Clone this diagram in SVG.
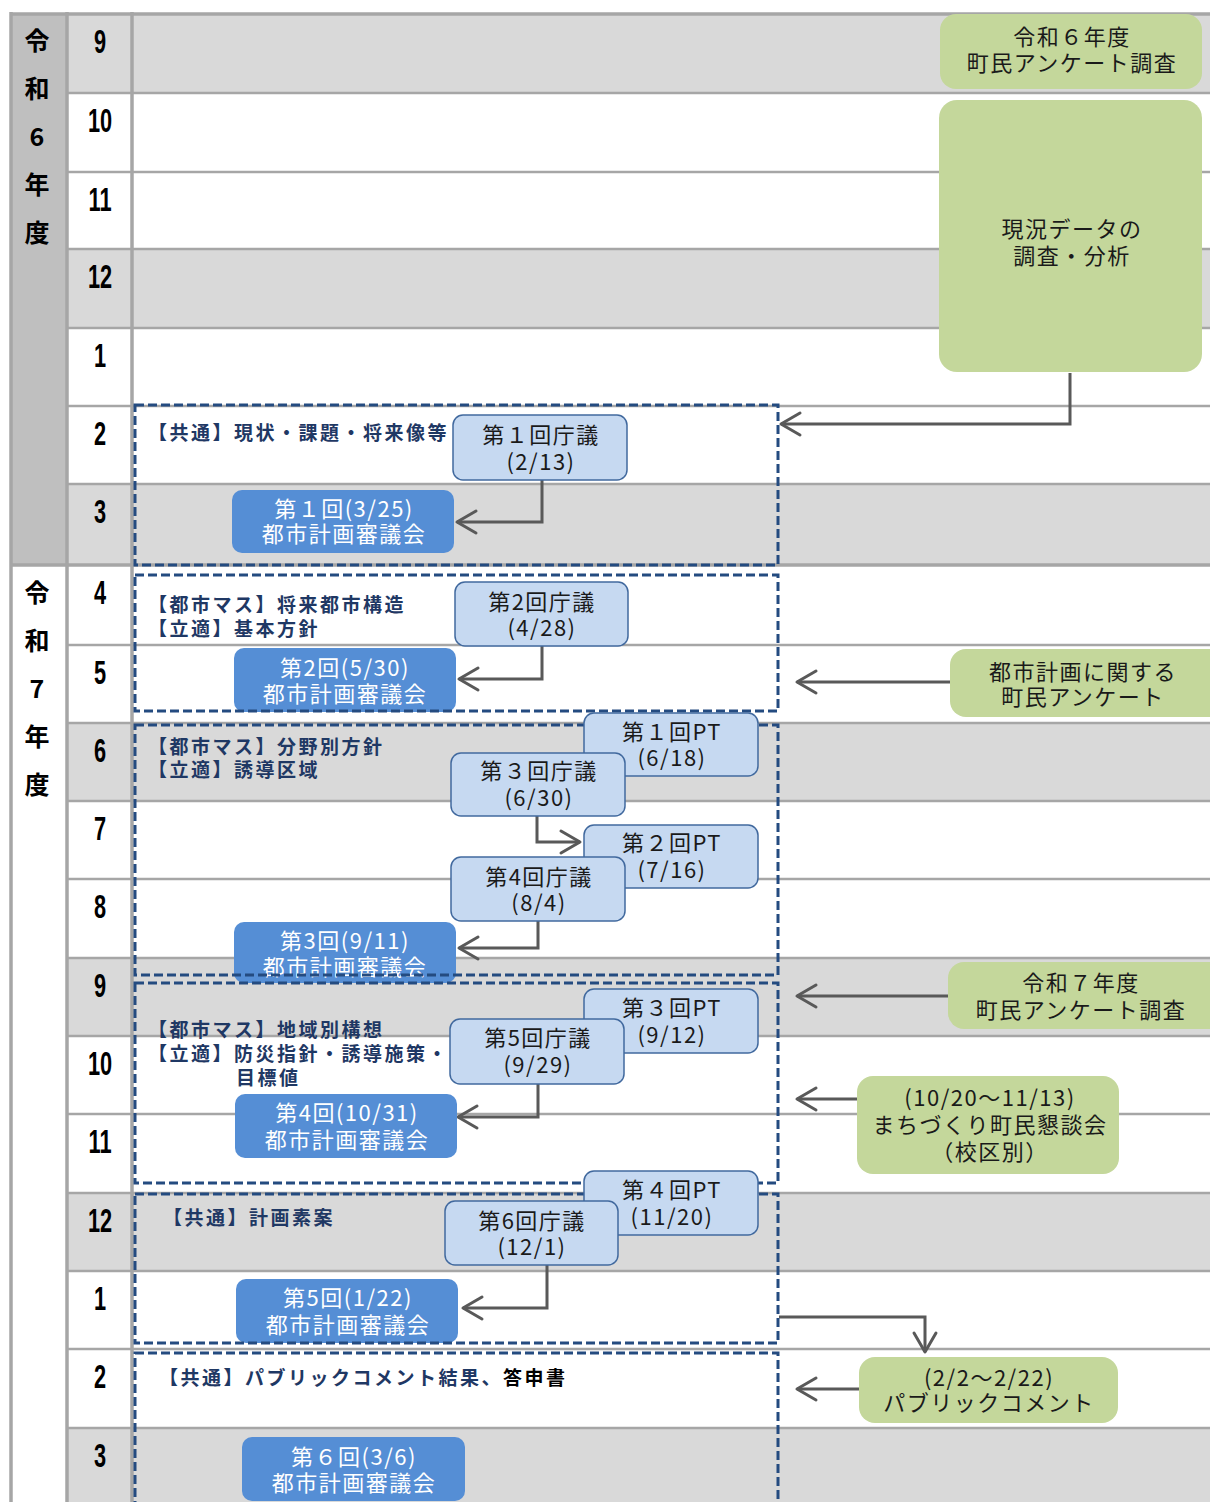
<svg xmlns="http://www.w3.org/2000/svg" width="1210" height="1502" viewBox="0 0 1210 1502">
<defs>
<style>
text{font-family:'Noto Sans CJK JP','Noto Sans',sans-serif;}
.shade{fill:#d9d9d9}
.rl{stroke:#a6a6a6;stroke-width:2.5}
.bl{stroke:#a6a6a6;stroke-width:3.5}
.yr{font-size:25px;font-weight:bold;text-anchor:middle;fill:#000}
.mo{font-family:'Liberation Sans',Arial,sans-serif;font-size:34px;font-weight:bold;text-anchor:middle;fill:#000}
.dash{fill:none;stroke:#244b80;stroke-width:3;stroke-dasharray:9 4}
.lab{font-size:19px;font-weight:bold;letter-spacing:2.5px;fill:#1f3864}
.g{fill:#c4d79b}
.lb{fill:#c6d9f1;stroke:#41699e;stroke-width:1.5}
.db{fill:#558ed5}
.t{font-size:22px;letter-spacing:1.5px;text-anchor:middle;fill:#1a1a1a}
.tw{font-size:22px;letter-spacing:1.5px;text-anchor:middle;fill:#fff}
.conn{fill:none;stroke:#595959;stroke-width:3;marker-end:url(#arr)}
</style>
<marker id="arr" markerUnits="userSpaceOnUse" viewBox="-22 -14 26 28" markerWidth="26" markerHeight="28" refX="0" refY="0" orient="auto" overflow="visible">
<path d="M-19,-11 L0,0 L-19,11" fill="none" stroke="#595959" stroke-width="3" stroke-linejoin="round" stroke-linecap="round"/>
</marker>
</defs>
<rect x="0" y="0" width="1210" height="1502" fill="#fff"/>
<g id="table">
<rect class="shade" x="68" y="14" width="1142" height="79"/>
<rect class="shade" x="68" y="249" width="1142" height="79"/>
<rect class="shade" x="68" y="484" width="1142" height="81"/>
<rect class="shade" x="68" y="723" width="1142" height="78"/>
<rect class="shade" x="68" y="958" width="1142" height="78"/>
<rect class="shade" x="68" y="1193" width="1142" height="78"/>
<rect class="shade" x="68" y="1428" width="1142" height="74"/>
<rect x="10" y="14" width="57" height="551" fill="#bfbfbf"/>
<g class="rl">
<line x1="68" y1="93" x2="1210" y2="93"/>
<line x1="68" y1="172" x2="1210" y2="172"/>
<line x1="68" y1="249" x2="1210" y2="249"/>
<line x1="68" y1="328" x2="1210" y2="328"/>
<line x1="68" y1="406" x2="1210" y2="406"/>
<line x1="68" y1="484" x2="1210" y2="484"/>
<line x1="68" y1="645" x2="1210" y2="645"/>
<line x1="68" y1="723" x2="1210" y2="723"/>
<line x1="68" y1="801" x2="1210" y2="801"/>
<line x1="68" y1="879" x2="1210" y2="879"/>
<line x1="68" y1="958" x2="1210" y2="958"/>
<line x1="68" y1="1036" x2="1210" y2="1036"/>
<line x1="68" y1="1114" x2="1210" y2="1114"/>
<line x1="68" y1="1193" x2="1210" y2="1193"/>
<line x1="68" y1="1271" x2="1210" y2="1271"/>
<line x1="68" y1="1349" x2="1210" y2="1349"/>
<line x1="68" y1="1428" x2="1210" y2="1428"/>
</g>
<g class="bl">
<line x1="10" y1="14" x2="1210" y2="14"/>
<line x1="10" y1="565" x2="1210" y2="565"/>
<line x1="11" y1="12" x2="11" y2="1502"/>
<line x1="67" y1="12" x2="67" y2="1502"/>
<line x1="132" y1="12" x2="132" y2="1502"/>
</g>
<text class="yr" x="37" y="50">令</text>
<text class="yr" x="37" y="98">和</text>
<text class="yr" x="37" y="146">6</text>
<text class="yr" x="37" y="194">年</text>
<text class="yr" x="37" y="242">度</text>
<text class="yr" x="37" y="602">令</text>
<text class="yr" x="37" y="650">和</text>
<text class="yr" x="37" y="698">7</text>
<text class="yr" x="37" y="746">年</text>
<text class="yr" x="37" y="794">度</text>
<text class="mo" transform="translate(100,53) scale(0.64,1)">9</text>
<text class="mo" transform="translate(100,132) scale(0.64,1)">10</text>
<text class="mo" transform="translate(100,211) scale(0.64,1)">11</text>
<text class="mo" transform="translate(100,288) scale(0.64,1)">12</text>
<text class="mo" transform="translate(100,367) scale(0.64,1)">1</text>
<text class="mo" transform="translate(100,445) scale(0.64,1)">2</text>
<text class="mo" transform="translate(100,523) scale(0.64,1)">3</text>
<text class="mo" transform="translate(100,604) scale(0.64,1)">4</text>
<text class="mo" transform="translate(100,684) scale(0.64,1)">5</text>
<text class="mo" transform="translate(100,762) scale(0.64,1)">6</text>
<text class="mo" transform="translate(100,840) scale(0.64,1)">7</text>
<text class="mo" transform="translate(100,918) scale(0.64,1)">8</text>
<text class="mo" transform="translate(100,997) scale(0.64,1)">9</text>
<text class="mo" transform="translate(100,1075) scale(0.64,1)">10</text>
<text class="mo" transform="translate(100,1153) scale(0.64,1)">11</text>
<text class="mo" transform="translate(100,1232) scale(0.64,1)">12</text>
<text class="mo" transform="translate(100,1310) scale(0.64,1)">1</text>
<text class="mo" transform="translate(100,1388) scale(0.64,1)">2</text>
<text class="mo" transform="translate(100,1467) scale(0.64,1)">3</text>
</g>
<g id="labels">
<text class="lab" x="148" y="440">【共通】現状・課題・将来像等</text>
<text class="lab" x="148" y="612">【都市マス】将来都市構造</text>
<text class="lab" x="148" y="636">【立適】基本方針</text>
<text class="lab" x="148" y="754">【都市マス】分野別方針</text>
<text class="lab" x="148" y="777">【立適】誘導区域</text>
<text class="lab" x="148" y="1037">【都市マス】地域別構想</text>
<text class="lab" x="148" y="1061">【立適】防災指針・誘導施策・</text>
<text class="lab" x="236" y="1085">目標値</text>
<text class="lab" x="163" y="1225">【共通】計画素案</text>
<text class="lab" x="159" y="1385">【共通】パブリックコメント結果、<tspan fill="#000">答申書</tspan></text>
</g>
<g id="connectors">
<path class="conn" d="M1070,373 V424 H781"/>
<path class="conn" d="M542,480 V522 H457"/>
<path class="conn" d="M542,646 V679 H459"/>
<path class="conn" d="M537,816 V842 H580"/>
<path class="conn" d="M538,921 V948 H459"/>
<path class="conn" d="M538,1084 V1117 H458"/>
<path class="conn" d="M547,1265 V1308 H463"/>
<path class="conn" d="M779,1317 H925 V1352"/>
<path class="conn" d="M950,682 H797"/>
<path class="conn" d="M948,996 H797"/>
<path class="conn" d="M857,1099 H797"/>
<path class="conn" d="M859,1389 H797"/>
</g>
<g id="n-survey6"><rect class="g" x="940" y="14" width="262" height="75" rx="16"/><text class="t" x="1072" y="45">令和６年度</text><text class="t" x="1072" y="71">町民アンケート調査</text></g>
<g id="n-analysis"><rect class="g" x="939" y="100" width="263" height="272" rx="18"/><text class="t" x="1072" y="237">現況データの</text><text class="t" x="1072" y="264">調査・分析</text></g>
<g id="n-survey-city"><rect class="g" x="950" y="649" width="275" height="68" rx="16"/><text class="t" x="1083" y="680">都市計画に関する</text><text class="t" x="1083" y="705">町民アンケート</text></g>
<g id="n-survey7"><rect class="g" x="948" y="962" width="277" height="67" rx="16"/><text class="t" x="1081" y="991">令和７年度</text><text class="t" x="1081" y="1018">町民アンケート調査</text></g>
<g id="n-meeting"><rect class="g" x="857" y="1076" width="262" height="98" rx="16"/><text class="t" x="990" y="1106">(10/20～11/13)</text><text class="t" x="990" y="1133">まちづくり町民懇談会</text><text class="t" x="990" y="1160">（校区別）</text></g>
<g id="n-pubcom"><rect class="g" x="859" y="1357" width="259" height="66" rx="16"/><text class="t" x="989" y="1386">(2/2～2/22)</text><text class="t" x="989" y="1411">パブリックコメント</text></g>
<g id="n-council1"><rect class="db" x="232" y="490" width="222" height="63" rx="10"/><text class="tw" x="344" y="517">第１回(3/25)</text><text class="tw" x="344" y="542">都市計画審議会</text></g>
<g id="n-council2"><rect class="db" x="234" y="648" width="222" height="64" rx="10"/><text class="tw" x="345" y="676">第2回(5/30)</text><text class="tw" x="345" y="702">都市計画審議会</text></g>
<g id="n-council3"><rect class="db" x="234" y="922" width="222" height="61" rx="10"/><text class="tw" x="345" y="949">第3回(9/11)</text><text class="tw" x="345" y="975">都市計画審議会</text></g>
<g id="n-council4"><rect class="db" x="235" y="1094" width="222" height="64" rx="10"/><text class="tw" x="347" y="1121">第4回(10/31)</text><text class="tw" x="347" y="1148">都市計画審議会</text></g>
<g id="n-council5"><rect class="db" x="236" y="1279" width="222" height="64" rx="10"/><text class="tw" x="348" y="1306">第5回(1/22)</text><text class="tw" x="348" y="1333">都市計画審議会</text></g>
<g id="n-council6"><rect class="db" x="242" y="1437" width="223" height="64" rx="10"/><text class="tw" x="354" y="1465">第６回(3/6)</text><text class="tw" x="354" y="1491">都市計画審議会</text></g>
<g id="phases">
<rect class="dash" x="135" y="405" width="643" height="160"/>
<rect class="dash" x="135" y="575" width="643" height="136"/>
<rect class="dash" x="135" y="725" width="643" height="250"/>
<rect class="dash" x="135" y="983" width="643" height="200"/>
<rect class="dash" x="135" y="1194" width="643" height="149"/>
<rect class="dash" x="135" y="1353" width="643" height="170"/>
</g>
<g id="n-pt1"><rect class="lb" x="584" y="713" width="174" height="63" rx="10"/><text class="t" x="672" y="740">第１回PT</text><text class="t" x="672" y="766">(6/18)</text></g>
<g id="n-pt2"><rect class="lb" x="584" y="825" width="174" height="63" rx="10"/><text class="t" x="672" y="851">第２回PT</text><text class="t" x="672" y="878">(7/16)</text></g>
<g id="n-pt3"><rect class="lb" x="584" y="989" width="174" height="64" rx="10"/><text class="t" x="672" y="1016">第３回PT</text><text class="t" x="672" y="1043">(9/12)</text></g>
<g id="n-pt4"><rect class="lb" x="584" y="1171" width="174" height="64" rx="10"/><text class="t" x="672" y="1198">第４回PT</text><text class="t" x="672" y="1225">(11/20)</text></g>
<g id="n-chogi1"><rect class="lb" x="453" y="415" width="174" height="65" rx="10"/><text class="t" x="541" y="443">第１回庁議</text><text class="t" x="541" y="470">(2/13)</text></g>
<g id="n-chogi2"><rect class="lb" x="455" y="582" width="173" height="64" rx="10"/><text class="t" x="542" y="610">第2回庁議</text><text class="t" x="542" y="636">(4/28)</text></g>
<g id="n-chogi3"><rect class="lb" x="451" y="753" width="174" height="63" rx="10"/><text class="t" x="539" y="779">第３回庁議</text><text class="t" x="539" y="806">(6/30)</text></g>
<g id="n-chogi4"><rect class="lb" x="451" y="857" width="174" height="64" rx="10"/><text class="t" x="539" y="885">第4回庁議</text><text class="t" x="539" y="911">(8/4)</text></g>
<g id="n-chogi5"><rect class="lb" x="450" y="1019" width="174" height="65" rx="10"/><text class="t" x="538" y="1046">第5回庁議</text><text class="t" x="538" y="1073">(9/29)</text></g>
<g id="n-chogi6"><rect class="lb" x="445" y="1201" width="173" height="64" rx="10"/><text class="t" x="532" y="1229">第6回庁議</text><text class="t" x="532" y="1255">(12/1)</text></g>
</svg>
